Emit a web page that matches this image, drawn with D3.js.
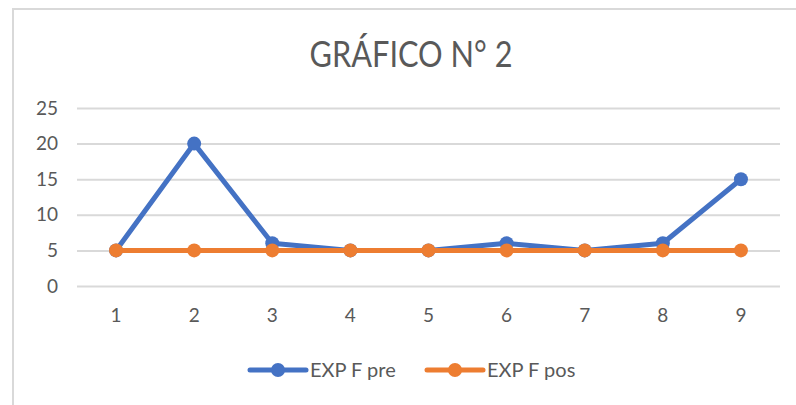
<!DOCTYPE html>
<html>
<head>
<meta charset="utf-8">
<script src="https://cdn.jsdelivr.net/npm/d3@7"></script>
<style>
  body { margin: 0; background: #fff; }
  text { font-family: Lato, "Open Sans", sans-serif; fill: #595959; }
</style>
</head>
<body>
<svg id="chart"></svg>
<script>
const categories = ["1", "2", "3", "4", "5", "6", "7", "8", "9"];
const expPre = [5, 20, 6, 5, 5, 6, 5, 6, 15];
const expPos = [5, 5, 5, 5, 5, 5, 5, 5, 5];
const yTicks = [0, 5, 10, 15, 20, 25];
const seriesNames = ["EXP F pre", "EXP F pos"];

const w = 796, h = 405;
const margin = { top: 108, right: 16, bottom: 119, left: 77 };
const colors = ["#4472C4", "#ED7D31"];

const svg = d3.select("#chart").attr("width", w).attr("height", h);

// outer chart border (only top and left visible in the reference)
svg.append("path")
   .attr("d", `M13,${h} V9 H${w}`)
   .attr("fill", "none")
   .attr("stroke", "#d9d9d9")
   .attr("stroke-width", 2);

svg.append("text")
   .attr("x", 411)
   .attr("y", 67)
   .attr("text-anchor", "middle")
   .attr("textLength", 203)
   .attr("lengthAdjust", "spacingAndGlyphs")
   .style("font-size", "36px")
   .text("GRÁFICO N° 2");

const x = d3.scaleBand()
            .domain(categories)
            .range([margin.left, w - margin.right]);

const y = d3.scaleLinear()
            .domain([0, 25])
            .range([h - margin.bottom, margin.top]);

svg.append("g")
   .attr("transform", `translate(${margin.left},0)`)
   .call(d3.axisLeft(y).tickValues(yTicks).tickSize(-(w - margin.left - margin.right)).tickPadding(19))
   .call(g => g.select(".domain").remove())
   .call(g => g.selectAll("line").attr("stroke", "#d9d9d9").attr("stroke-width", 2))
   .call(g => g.selectAll("text").style("font-size", "19px").attr("font-family", null).attr("fill", "#595959"));

svg.append("g")
   .attr("transform", `translate(0,${h - margin.bottom})`)
   .call(d3.axisBottom(x).tickSize(0).tickPadding(23))
   .call(g => g.select(".domain").remove())
   .call(g => g.selectAll("text").style("font-size", "19px").attr("font-family", null).attr("fill", "#595959"));

const line = d3.line()
               .x((d, i) => x(categories[i]) + x.bandwidth() / 2)
               .y(d => y(d));

[expPre, expPos].forEach((vals, k) => {
  svg.append("path")
     .datum(vals)
     .attr("d", line)
     .attr("fill", "none")
     .attr("stroke", colors[k])
     .attr("stroke-width", 5)
     .attr("stroke-linejoin", "round");

  svg.selectAll(null)
     .data(vals)
     .enter()
     .append("circle")
     .attr("cx", (d, i) => x(categories[i]) + x.bandwidth() / 2)
     .attr("cy", d => y(d))
     .attr("r", 7)
     .attr("fill", colors[k]);
});

// legend
const legendX = [250, 427];
const legend = svg.selectAll(".legend-item")
                  .data(seriesNames)
                  .enter()
                  .append("g")
                  .attr("class", "legend-item")
                  .attr("transform", (d, i) => `translate(${legendX[i]},370)`);

legend.append("line")
      .attr("x1", 0).attr("x2", 56)
      .attr("stroke", (d, i) => colors[i])
      .attr("stroke-width", 5)
      .attr("stroke-linecap", "round");

legend.append("circle")
      .attr("cx", 28)
      .attr("r", 7)
      .attr("fill", (d, i) => colors[i]);

legend.append("text")
      .attr("x", 60)
      .attr("dy", "0.35em")
      .style("font-size", "20px")
      .text(d => d);
</script>
</body>
</html>
